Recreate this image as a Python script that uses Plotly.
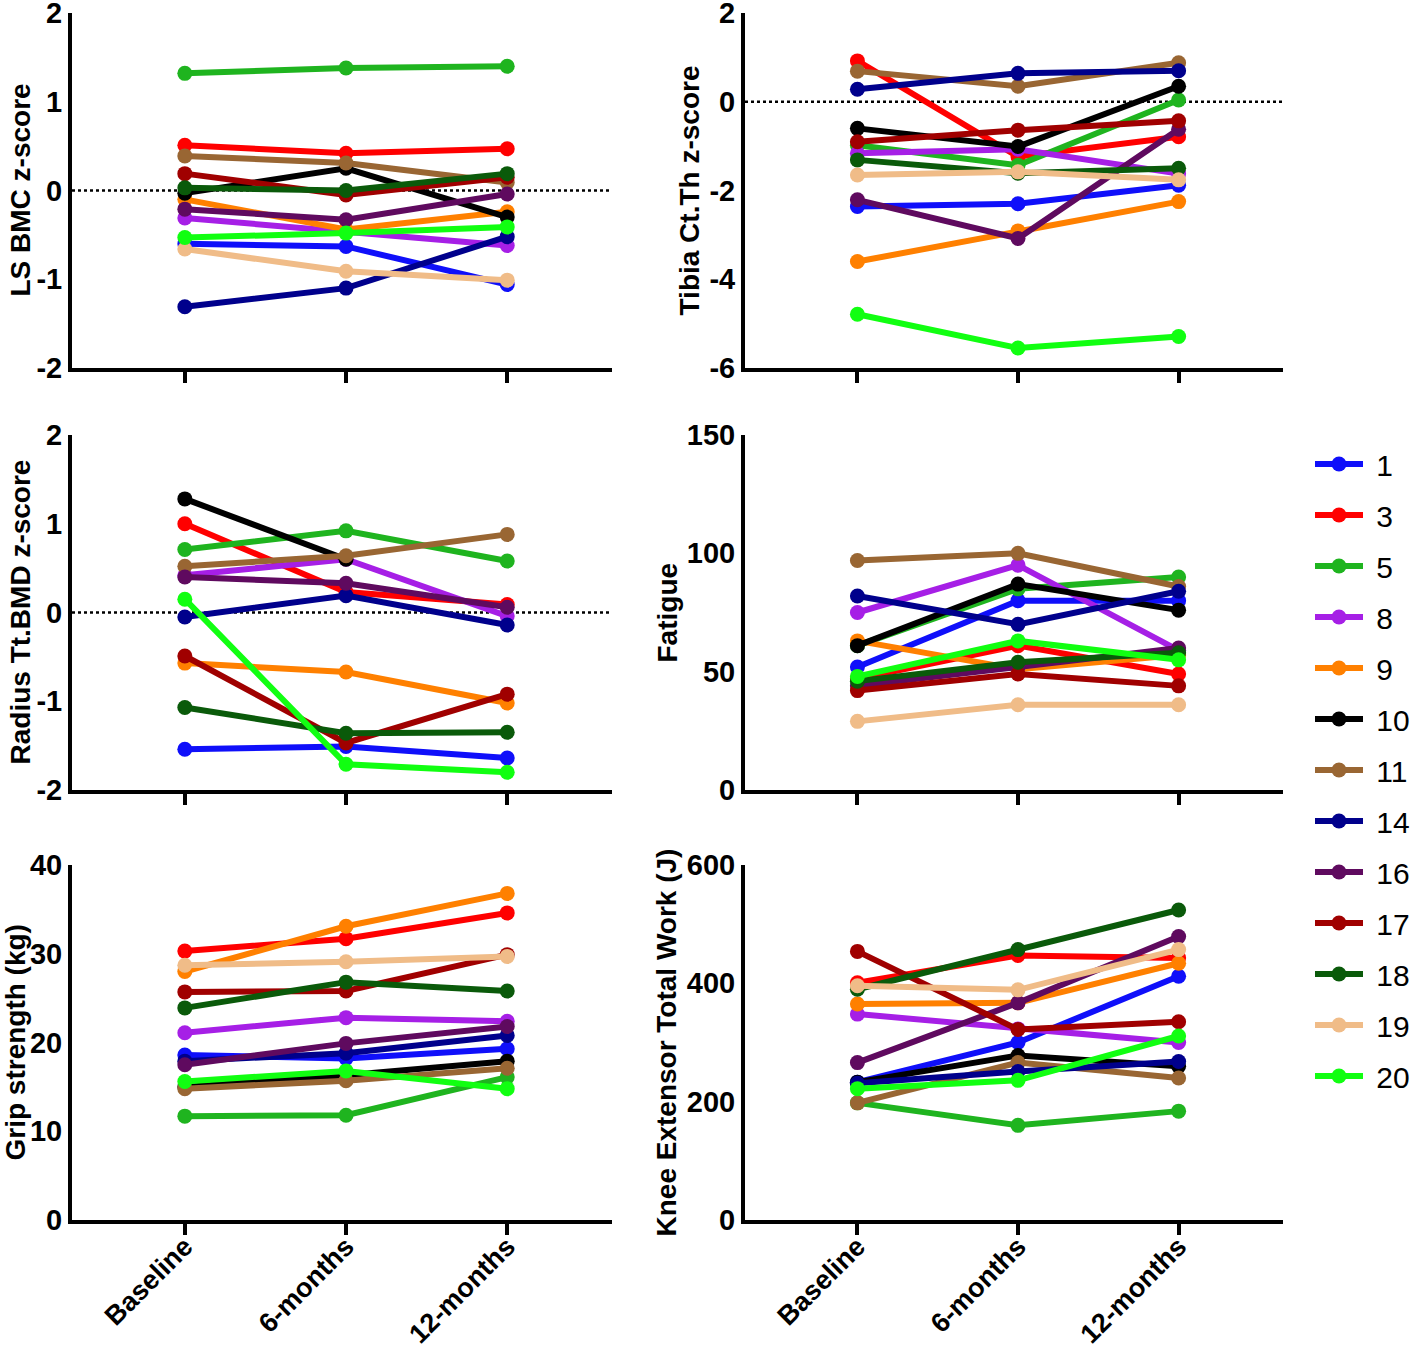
import plotly.graph_objects as go

timepoints = ["Baseline", "6-months", "12-months"]
subjects = ["1", "3", "5", "8", "9", "10", "11", "14", "16", "17", "18", "19", "20"]
colors = ["#0F0FFA", "#FF0000", "#1FB41F", "#A61FE6", "#FF8000", "#000000", "#996633",
          "#00008C", "#5F0A5F", "#A00000", "#0A5A0A", "#F0BC88", "#11FF11"]

# values per subject (order as in `subjects`): [Baseline, 6-months, 12-months]
ls_bmc = [[-0.60, -0.63, -1.06], [0.51, 0.42, 0.47], [1.32, 1.38, 1.40], [-0.31, -0.46, -0.62],
          [-0.10, -0.44, -0.24], [-0.03, 0.25, -0.30], [0.39, 0.31, 0.09], [-1.31, -1.10, -0.52],
          [-0.21, -0.33, -0.04], [0.19, -0.05, 0.15], [0.03, 0.00, 0.19], [-0.66, -0.91, -1.01],
          [-0.53, -0.48, -0.41]]
tibia = [[-2.36, -2.30, -1.88], [0.92, -1.24, -0.79], [-0.98, -1.43, 0.04], [-1.16, -1.07, -1.62],
         [-3.60, -2.91, -2.25], [-0.60, -1.01, 0.35], [0.69, 0.35, 0.88], [0.28, 0.64, 0.70],
         [-2.21, -3.08, -0.62], [-0.90, -0.64, -0.43], [-1.31, -1.61, -1.50], [-1.65, -1.58, -1.76],
         [-4.79, -5.55, -5.29]]
radius = [[-1.54, -1.51, -1.64], [1.00, 0.23, 0.09], [0.71, 0.92, 0.58], [0.42, 0.60, -0.04],
          [-0.57, -0.67, -1.02], [1.28, 0.60, None], [0.52, 0.64, 0.88], [-0.05, 0.19, -0.14],
          [0.40, 0.33, 0.06], [-0.49, -1.47, -0.92], [-1.07, -1.36, -1.35], [None, None, None],
          [0.15, -1.71, -1.80]]
fatigue = [[52, 80, 80], [47, 61, 49], [61, 85, 90], [75, 95, 59], [63, 51, 57], [61, 87, 76],
           [97, 100, 86], [82, 70, 84], [44, 52, 60], [42, 49, 44], [46, 54, 58], [29, 36, 36],
           [48, 63, 55]]
grip = [[18.6, 18.2, 19.3], [30.3, 31.7, 34.6], [11.7, 11.8, 16.1], [21.1, 22.8, 22.4],
        [28.0, 33.1, 36.8], [15.0, 16.3, 17.9], [14.8, 15.7, 17.1], [17.9, 18.8, 20.8],
        [17.5, 19.9, 21.8], [25.7, 25.8, 29.9], [23.9, 26.8, 25.8], [28.7, 29.1, 29.7],
        [15.6, 16.8, 14.8]]
knee = [[233, 300, 412], [401, 447, 443], [198, 160, 184], [348, 323, 300], [365, 367, 434],
        [233, 278, 260], [198, 266, 240], [231, 251, 268], [266, 367, 479], [454, 322, 335],
        [390, 457, 524], [396, 389, 457], [222, 236, 311]]

# y tick labels per panel
ticks_z2 = [-2, -1, 0, 1, 2]
ticks_z6 = [-6, -4, -2, 0, 2]
ticks_fat = [0, 50, 100, 150]
ticks_grip = [0, 10, 20, 30, 40]
ticks_knee = [0, 200, 400, 600]

panels = [
    dict(data=ls_bmc, title="LS BMC z-score", ticks=ticks_z2, zero=True),
    dict(data=tibia, title="Tibia Ct.Th z-score", ticks=ticks_z6, zero=True),
    dict(data=radius, title="Radius Tt.BMD z-score", ticks=ticks_z2, zero=True),
    dict(data=fatigue, title="Fatigue", ticks=ticks_fat, zero=False),
    dict(data=grip, title="Grip strength (kg)", ticks=ticks_grip, zero=False),
    dict(data=knee, title="Knee Extensor Total Work (J)", ticks=ticks_knee, zero=False),
]

W, H = 1418, 1349
xdoms = [[72 / W, 612 / W], [745 / W, 1283 / W]]
ypx = [(13, 368), (435, 790), (865, 1220)]
ydoms = [[1 - b / H, 1 - t / H] for t, b in ypx]
title_x = [20, 689, 20, 667, 15, 666]

FONT = "Liberation Sans, Arial, sans-serif"
fig = go.Figure()
layout = dict(template="none", width=W, height=H, margin=dict(l=0, r=0, t=0, b=0, autoexpand=False),
              paper_bgcolor="white", plot_bgcolor="white", showlegend=True)
annotations = []
shapes = []

for i, p in enumerate(panels):
    row, col = divmod(i, 2)
    k = i + 1
    xa = "xaxis" if k == 1 else f"xaxis{k}"
    ya = "yaxis" if k == 1 else f"yaxis{k}"
    xr = "x" if k == 1 else f"x{k}"
    yr = "y" if k == 1 else f"y{k}"
    for s, name in enumerate(subjects):
        vals = p["data"][s]
        fig.add_trace(go.Scatter(
            x=timepoints, y=vals, mode="lines+markers", name="\u00a0" + name,
            legendgroup=name, showlegend=(i == 0),
            line=dict(color=colors[s], width=6),
            marker=dict(color=colors[s], size=15),
            xaxis=xr, yaxis=yr, cliponaxis=False))
    layout[xa] = dict(domain=xdoms[col], anchor=yr, type="category",
                      categoryorder="array", categoryarray=timepoints,
                      range=[-0.7, 2.65], showline=True, linewidth=4, linecolor="black",
                      ticks="outside", ticklen=11, tickwidth=4, tickcolor="black",
                      showgrid=False, zeroline=False, automargin=False,
                      ticklabeloverflow="allow", ticklabelstandoff=-15,
                      showticklabels=(row == 2), tickangle=-45,
                      tickfont=dict(family=FONT, size=27, color="black", weight="bold"))
    tv = p["ticks"]
    layout[ya] = dict(domain=ydoms[row], anchor=xr, range=[tv[0], tv[-1]],
                      tickmode="array", tickvals=tv, ticktext=[str(v) for v in tv],
                      showline=True, linewidth=4, linecolor="black",
                      ticks="", showgrid=False, zeroline=False, automargin=False,
                      ticklabeloverflow="allow",
                      tickfont=dict(family=FONT, size=29, color="black", weight="bold"))
    annotations.append(dict(text=p["title"], textangle=-90, xref="paper", yref="paper",
                            x=title_x[i] / W, y=sum(ydoms[row]) / 2, xanchor="center",
                            yanchor="middle", showarrow=False,
                            font=dict(family=FONT, size=28, color="black", weight="bold")))
    if p["zero"]:
        shapes.append(dict(type="line", xref=f"{xr} domain", yref=yr, x0=0, x1=1, y0=0, y1=0,
                           line=dict(color="black", width=2.5, dash="dot"), layer="below"))

layout["annotations"] = annotations
layout["shapes"] = shapes
layout["legend"] = dict(x=1310 / W, y=1 - 438 / H, xanchor="left", yanchor="top",
                        font=dict(family=FONT, size=30, color="black"),
                        tracegroupgap=9, itemwidth=48, bgcolor="rgba(0,0,0,0)")
fig.update_layout(**layout)
fig.write_html("out.html", config={"displayModeBar": False},
               post_script="document.body.style.margin='0';document.body.style.overflow='hidden';")
